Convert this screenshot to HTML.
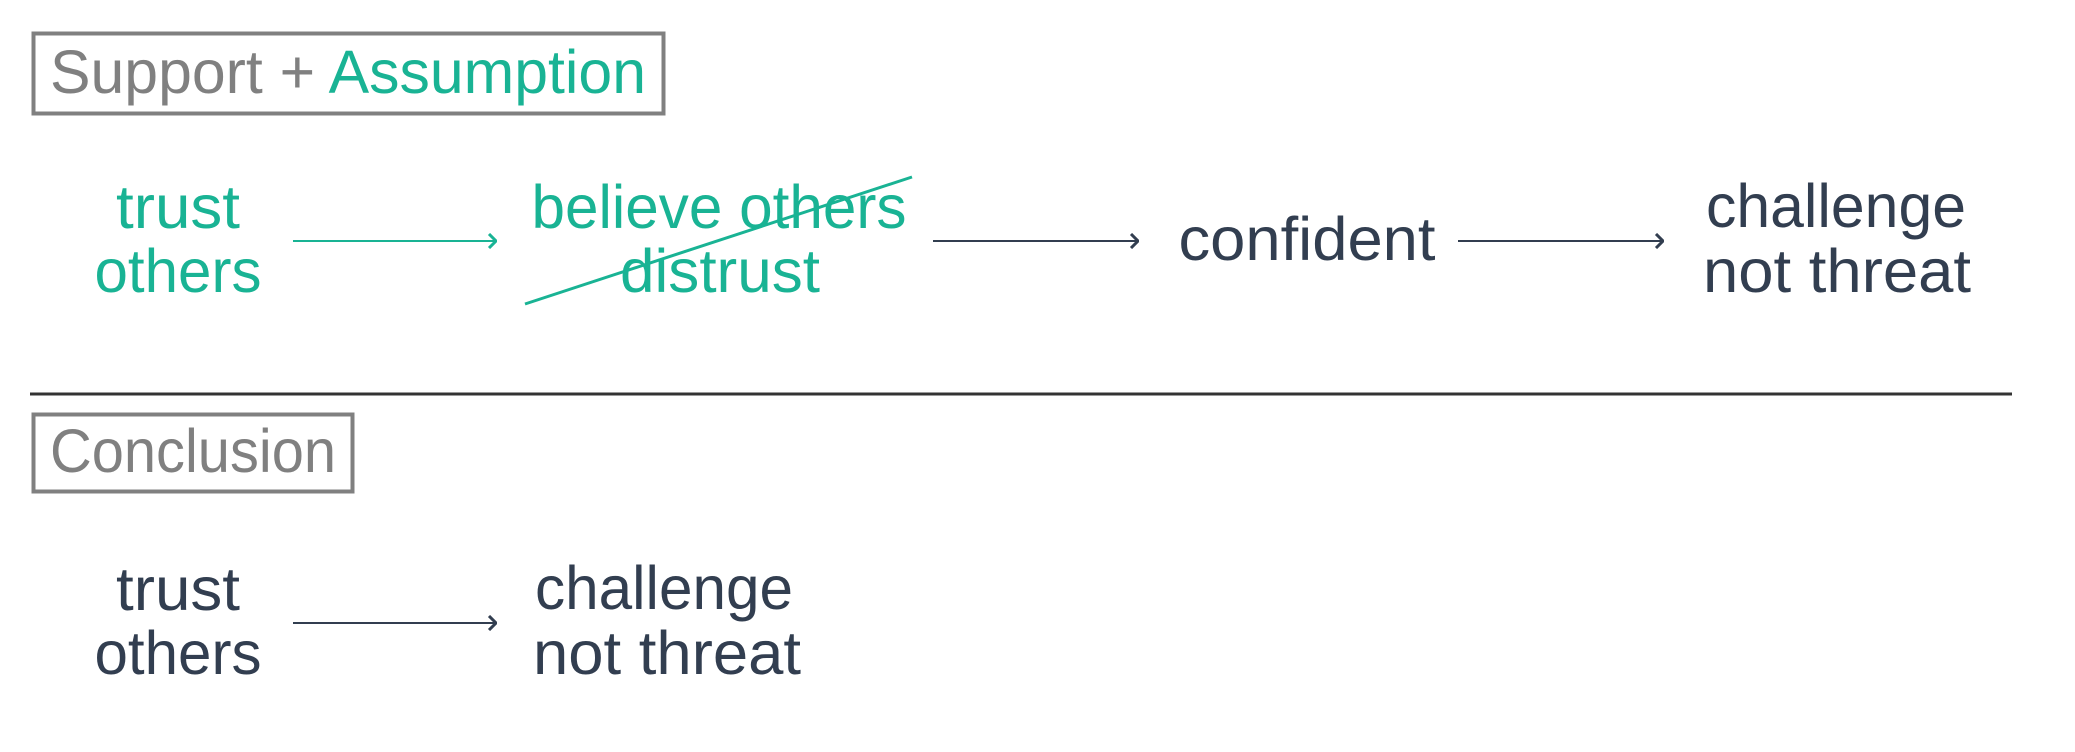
<!DOCTYPE html>
<html><head><meta charset="utf-8"><style>
html,body{margin:0;padding:0;background:#fff;width:2075px;height:752px;overflow:hidden}
text{font-family:"Liberation Sans",sans-serif;font-size:61px}
.g{fill:#19b394}.d{fill:#323e50}.gr{fill:#808080}
</style></head><body>
<svg width="2075" height="752" xmlns="http://www.w3.org/2000/svg">
<defs>
<marker id="ag" markerWidth="10" markerHeight="16" refX="9" refY="8" orient="auto" markerUnits="userSpaceOnUse"><path d="M2,1 L9,8 L2,15" fill="none" stroke="#19b394" stroke-width="3"/></marker>
<marker id="ad" markerWidth="10" markerHeight="16" refX="9" refY="8" orient="auto" markerUnits="userSpaceOnUse"><path d="M2,1 L9,8 L2,15" fill="none" stroke="#323e50" stroke-width="3"/></marker>
</defs>
<rect x="33.5" y="33.5" width="630" height="80" fill="none" stroke="#808080" stroke-width="4"/>
<text x="50" y="93" textLength="596" lengthAdjust="spacingAndGlyphs"><tspan class="gr">Support + </tspan><tspan class="g">Assumption</tspan></text>

<text class="g" x="178" y="228" text-anchor="middle" textLength="124" lengthAdjust="spacingAndGlyphs">trust</text>
<text class="g" x="178" y="292" text-anchor="middle" textLength="167" lengthAdjust="spacingAndGlyphs">others</text>
<line x1="293" y1="241" x2="496" y2="241" stroke="#19b394" stroke-width="2" marker-end="url(#ag)"/>
<text class="g" x="719" y="228" text-anchor="middle" textLength="375" lengthAdjust="spacingAndGlyphs">believe others</text>
<text class="g" x="720" y="292" text-anchor="middle" textLength="200" lengthAdjust="spacingAndGlyphs">distrust</text>
<line x1="525" y1="304" x2="912" y2="177" stroke="#19b394" stroke-width="3"/>
<line x1="933" y1="241" x2="1138" y2="241" stroke="#323e50" stroke-width="2" marker-end="url(#ad)"/>
<text class="d" x="1307" y="260" text-anchor="middle" textLength="257" lengthAdjust="spacingAndGlyphs">confident</text>
<line x1="1458" y1="241" x2="1663" y2="241" stroke="#323e50" stroke-width="2" marker-end="url(#ad)"/>
<text class="d" x="1836" y="227" text-anchor="middle" textLength="260" lengthAdjust="spacingAndGlyphs">challenge</text>
<text class="d" x="1837" y="292" text-anchor="middle" textLength="268" lengthAdjust="spacingAndGlyphs">not threat</text>

<line x1="30" y1="394" x2="2012" y2="394" stroke="#333" stroke-width="3"/>

<rect x="33.5" y="414.5" width="319" height="77" fill="none" stroke="#808080" stroke-width="4"/>
<text class="gr" x="50" y="472" textLength="286" lengthAdjust="spacingAndGlyphs">Conclusion</text>

<text class="d" x="178" y="610" text-anchor="middle" textLength="124" lengthAdjust="spacingAndGlyphs">trust</text>
<text class="d" x="178" y="674" text-anchor="middle" textLength="167" lengthAdjust="spacingAndGlyphs">others</text>
<line x1="293" y1="623" x2="496" y2="623" stroke="#323e50" stroke-width="2" marker-end="url(#ad)"/>
<text class="d" x="664" y="609" text-anchor="middle" textLength="258" lengthAdjust="spacingAndGlyphs">challenge</text>
<text class="d" x="667" y="674" text-anchor="middle" textLength="268" lengthAdjust="spacingAndGlyphs">not threat</text>
</svg>
</body></html>
